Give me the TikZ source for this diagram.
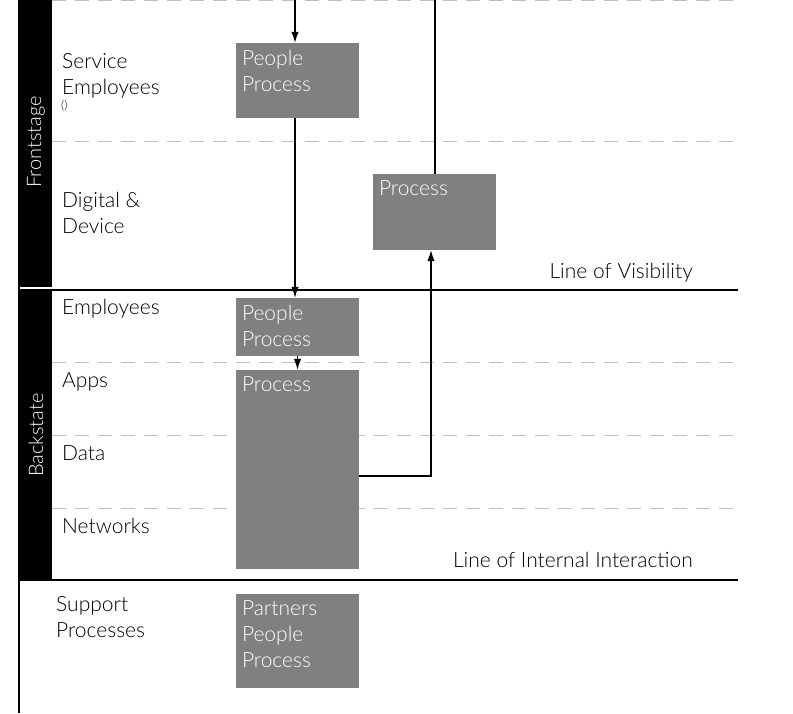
\documentclass[tikz,border=0pt]{standalone}
\usepackage{fontspec}
\setmainfont{Lato}[UprightFont=* Light]
\usetikzlibrary{arrows.meta}

\tikzset{
  procbox/.style={fill=gray, minimum width=123pt, inner sep=0pt},
  boxtext/.style={anchor=north west, inner sep=6pt, yshift=-1pt, align=left, text=white, font=\fontsize{21}{26}\selectfont},
  rowlabel/.style={anchor=base west, align=left, inner sep=0pt, font=\fontsize{21}{26}\selectfont},
  bandlabel/.style={rotate=90, text=white, inner sep=0pt, font=\fontsize{20}{24}\selectfont},
  laneline/.style={gray!50, dash pattern=on 14pt off 9pt, line width=1pt},
  stageline/.style={line width=1.3pt},
}

\begin{document}
\begin{tikzpicture}[x=1pt,y=-1pt,>={Latex[length=11pt,width=7.5pt]}]
\useasboundingbox (0,0) rectangle (793,713);
% lanes
\foreach \ly in {0.5,141,362,435,508}
  \draw[laneline] (52,\ly) -- (740,\ly);
\fill (19,0) rectangle (52,287);
\fill (19,291) rectangle (52,580);
\draw[stageline] (19,0) -- (19,713);
\draw[stageline] (19,290) -- (738,290);
\draw[stageline] (19,580) -- (738,580);
\node[bandlabel] (front) at (36,142) {Frontstage};
\node[bandlabel] (back) at (36,435) {Backstate};
% row labels (base = last line)
\node[rowlabel] (srv) at (62,94) {Service\\Employees};
\node[anchor=north west, inner sep=0pt, font=\fontsize{12}{13}\selectfont] (srvnote) at (61,100) {()};
\node[rowlabel] (dig) at (62,233) {Digital \&\\Device};
\node[rowlabel] (emp) at (62,314) {Employees};
\node[rowlabel] (apps) at (62,387) {Apps};
\node[rowlabel] (data) at (62,460) {Data};
\node[rowlabel] (net) at (62,533) {Networks};
\node[rowlabel] (sup) at (56,637) {Support\\Processes};
\node[rowlabel, anchor=base east] (vis) at (693,278) {Line of Visibility};
\node[rowlabel, anchor=base east] (internal) at (693,567) {Line of Internal Interaction};
% boxes
\node[procbox, minimum height=75pt, label={[boxtext]north west:People\\Process}] (sepp) at (297.5,80.5) {};
\node[procbox, minimum height=76pt, label={[boxtext]north west:Process}] (digp) at (434.5,212) {};
\node[procbox, minimum height=58pt, label={[boxtext]north west:People\\Process}] (empp) at (297.5,327) {};
\node[procbox, minimum height=199pt, label={[boxtext]north west:Process}] (bigp) at (297.5,469.5) {};
\node[procbox, minimum height=94pt, label={[boxtext]north west:Partners\\People\\Process}] (partp) at (297.5,641) {};
% flow
\coordinate (sein) at (295,0);
\coordinate (digout) at (435,0);
\draw[stageline, ->] (sein) -- (sein |- sepp.north);
\draw[stageline, ->] (sepp.south -| sein) -- (empp.north -| sein);
\draw[stageline, ->] (empp.south) -- (bigp.north);
\draw[stageline, ->] ([yshift=-6.5pt]bigp.east) -| ([xshift=-3.5pt]digp.south);
\draw[stageline] (digp.north -| digout) -- (digout);
\end{tikzpicture}
\end{document}
